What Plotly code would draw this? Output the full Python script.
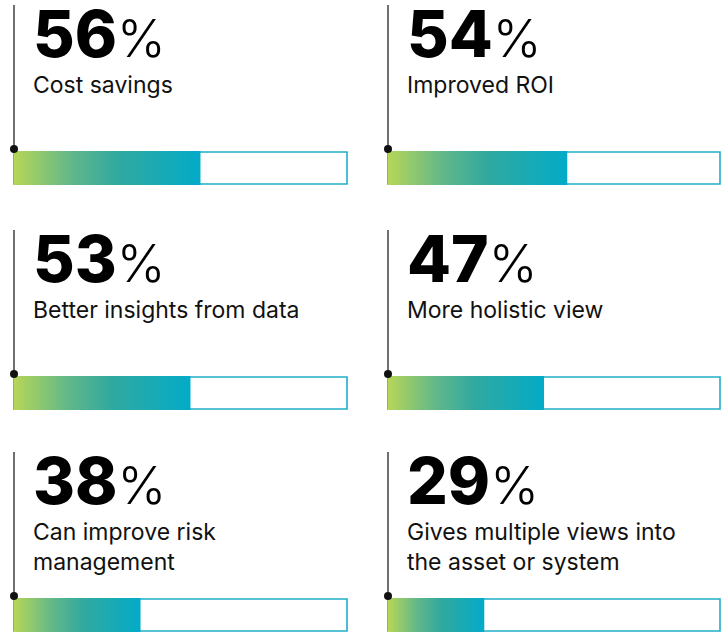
import plotly.graph_objects as go

# survey results
values = [56, 54, 53, 47, 38, 29]
labels = [
    "Cost savings",
    "Improved ROI",
    "Better insights from data",
    "More holistic view",
    "Can improve risk<br>management",
    "Gives multiple views into<br>the asset or system",
]

W, H = 725, 633
# pixel layout of each panel (bar left/right, bar bottom)
col_px = [(14, 347), (388, 720)]
row_bottom_px = [185, 410, 632]
panel_h = 180
pad_l, pad_r = 2.0, 1.0  # extra axis units so edge lines are not clipped

grad = [[0, "#b6d657"], [0.3, "#63b889"], [0.55, "#31a99f"], [1, "#03abc8"]]

fig = go.Figure()
for i, (v, lab) in enumerate(zip(values, labels)):
    r, c = divmod(i, 2)
    n = i + 1
    sfx = "" if n == 1 else str(n)
    xa, ya = "x" + sfx, "y" + sfx
    x0, x1 = col_px[c]
    scale = (x1 - x0) / 100.0
    yb = row_bottom_px[r]

    fig.update_layout({
        "xaxis" + sfx: dict(
            domain=[max(0, (x0 - pad_l * scale) / W), min(1, (x1 + pad_r * scale) / W)],
            range=[-pad_l, 100 + pad_r], visible=False, fixedrange=True, anchor=ya),
        "yaxis" + sfx: dict(
            domain=[max(0, 1 - (yb + 1) / H), 1 - (yb - panel_h) / H],
            range=[-1, panel_h], visible=False, fixedrange=True, anchor=xa),
    })

    # empty track with outline
    fig.add_trace(go.Bar(
        x=[100], y=[17], base=0, orientation="h", width=32,
        marker=dict(color="white", line=dict(color="#1fadca", width=1.6)),
        xaxis=xa, yaxis=ya, hoverinfo="skip", showlegend=False))
    # gradient fill up to the value
    fig.add_trace(go.Scatter(
        x=[0, v, v, 0, 0], y=[0, 0, 34, 34, 0], mode="lines",
        fill="toself", line=dict(width=0),
        fillgradient=dict(type="horizontal", colorscale=grad),
        xaxis=xa, yaxis=ya, hoverinfo="skip", showlegend=False))
    # leader line with dot
    fig.add_trace(go.Scatter(
        x=[0, 0], y=[36, panel_h], mode="lines",
        line=dict(color="#222222", width=1.3),
        xaxis=xa, yaxis=ya, hoverinfo="skip", showlegend=False))
    fig.add_trace(go.Scatter(
        x=[0], y=[36], mode="markers", cliponaxis=False,
        marker=dict(color="#111111", size=8),
        xaxis=xa, yaxis=ya, hoverinfo="skip", showlegend=False))

    fig.add_annotation(
        x=0, y=127, xref=xa, yref=ya, xanchor="left", yanchor="bottom",
        xshift=17, yshift=-16, showarrow=False,
        text=(f"<span style='font-weight:800'>{v}</span>"
              f"<span style='font-weight:300;font-size:52px'>%</span>"),
        font=dict(family="Inter", size=64, color="#000000"))
    fig.add_annotation(
        x=0, y=116.5, xref=xa, yref=ya, xanchor="left", yanchor="top",
        xshift=17, showarrow=False, align="left",
        text=lab, font=dict(family="Inter", size=23, color="#111111"))

fig.update_layout(
    width=W, height=H,
    margin=dict(l=0, r=0, t=0, b=0),
    plot_bgcolor="white", paper_bgcolor="white",
    barmode="overlay", showlegend=False,
)

fig.write_html("out.html", config={"displayModeBar": False},
               post_script="document.body.style.margin='0';")
